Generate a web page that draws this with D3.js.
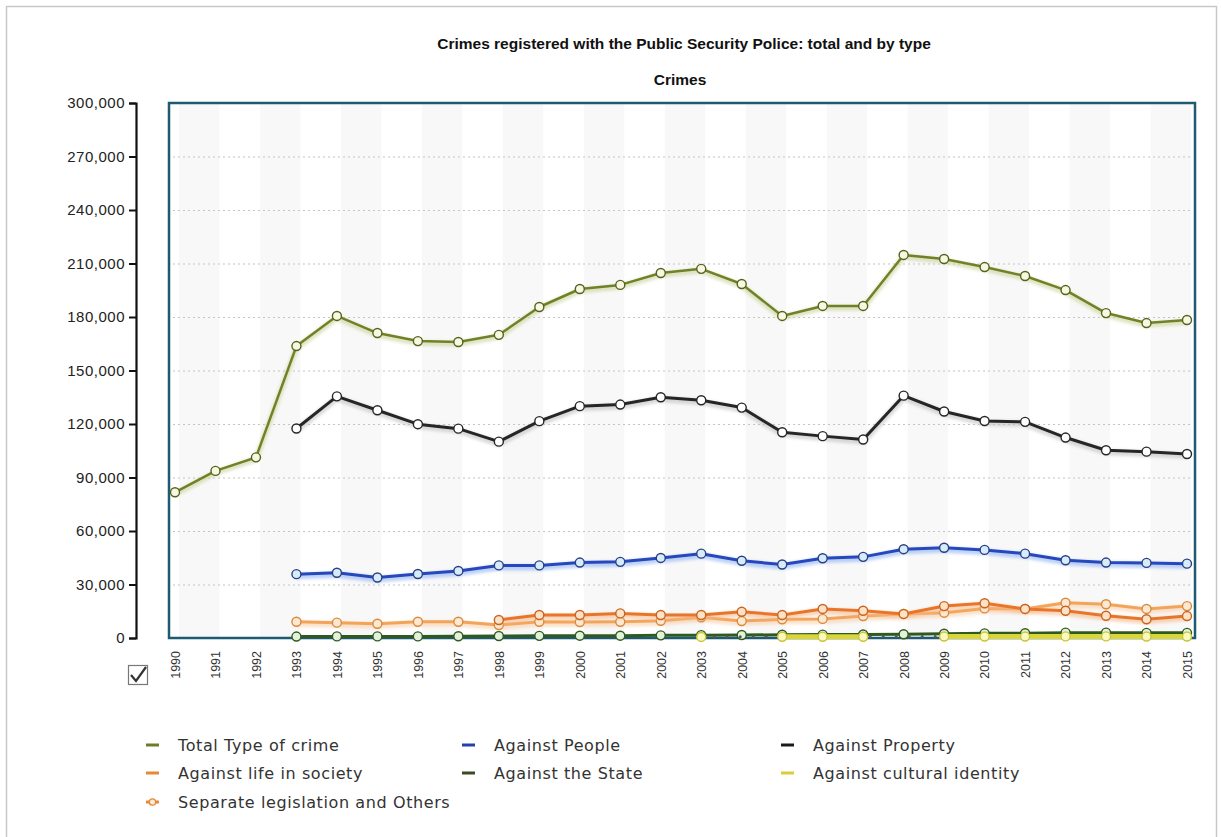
<!DOCTYPE html>
<html>
<head>
<meta charset="utf-8">
<script src="https://cdn.jsdelivr.net/npm/d3@7/dist/d3.min.js"></script>
<style>
  html, body { margin: 0; padding: 0; background: #fff; }
  svg { display: block; }
</style>
</head>
<body>
<svg id="chart" width="1221" height="837"></svg>
<script>
// Registered crimes by year, per type
const years = d3.range(1990, 2016).map(String);
const yTicks = [0, 30000, 60000, 90000, 120000, 150000, 180000, 210000, 240000, 270000, 300000];

const totalCrime = [81700, 93700, 101300, 163700, 180600, 171000, 166500, 166000, 170000, 185600,
  195700, 198000, 204700, 207000, 198500, 180600, 186200, 186200, 214800, 212500,
  208000, 203000, 195100, 182200, 176600, 178300];
const againstPeople = [null, null, null, 35800, 36600, 33900, 35900, 37600, 40700, 40700,
  42300, 42700, 44900, 47300, 43300, 41200, 44700, 45500, 49800, 50600,
  49400, 47300, 43600, 42300, 42100, 41700];
const againstProperty = [null, null, null, 117500, 135500, 127700, 119900, 117400, 110100, 121600,
  130000, 130900, 135000, 133300, 129200, 115400, 113200, 111300, 135900, 127000,
  121700, 121200, 112400, 105300, 104500, 103200];
const lifeInSociety = [null, null, null, null, null, null, null, null, 10100, 12900,
  12900, 13800, 12900, 12900, 14700, 12900, 16300, 15300, 13500, 17900,
  19500, 16300, 15300, 12500, 10500, 12300];
const againstState = [null, null, null, 800, 900, 900, 900, 1000, 1100, 1200,
  1300, 1300, 1500, 1600, 1700, 1800, 1900, 2000, 2100, 2400,
  2600, 2700, 3000, 3000, 2900, 2900];
const culturalIdentity = [null, null, null, null, null, null, null, null, null, null,
  null, null, null, 600, null, 700, 700, 700, null, 800,
  800, 800, 900, 900, 800, 800];
const separateLegislation = [null, null, null, 9100, 8600, 8000, 9100, 9100, 7300, 9100,
  9000, 9100, 9700, 11600, 9500, 10500, 10700, 12300, 13500, 14200,
  16600, 16300, 19800, 18900, 16300, 17900];

const series = [
  { name: "Against the State", values: againstState, stroke: "#2f5a1f", width: 3, fill: "#e4f2dc", ring: "#2f5a1f" },
  { name: "Against cultural identity", values: culturalIdentity, stroke: "#d9d63c", width: 5, fill: "#fbf8c0", ring: "#c9c43a", bridge: true },
  { name: "Separate legislation and Others", values: separateLegislation, stroke: "#f2a45a", width: 3, fill: "#fde9d2", ring: "#d98a3e", glow: "#f8cfa8" },
  { name: "Against life in society", values: lifeInSociety, stroke: "#e8762a", width: 3, fill: "#fde2c8", ring: "#c8641f", glow: "#f5b98a" },
  { name: "Against People", values: againstPeople, stroke: "#2747bd", width: 3, fill: "#d6ecfb", ring: "#2a3f80", glow: "#8fb2f2" },
  { name: "Against Property", values: againstProperty, stroke: "#262626", width: 3, fill: "#ffffff", ring: "#262626", glow: "#c0c0c0" },
  { name: "Total Type of crime", values: totalCrime, stroke: "#6f8227", width: 2.5, fill: "#f8f8e2", ring: "#55621e", glow: "#c9d29a" }
];

const legendItems = [
  { name: "Total Type of crime", color: "#6b7d2a" },
  { name: "Against People", color: "#2340b3" },
  { name: "Against Property", color: "#1a1a1a" },
  { name: "Against life in society", color: "#e88a35" },
  { name: "Against the State", color: "#3c4a22" },
  { name: "Against cultural identity", color: "#d8cf35" },
  { name: "Separate legislation and Others", color: "#e8883a", circle: true }
];

const svg = d3.select("#chart");
const plot = { left: 169, right: 1195, top: 103, bottom: 638 };

const x = d3.scalePoint().domain(years).range([175, 1187]);
const y = d3.scaleLinear().domain([0, 300000]).range([plot.bottom, plot.top]);

// outer frame
svg.append("rect").attr("x", 6.5).attr("y", 6.5).attr("width", 1210).attr("height", 840)
  .attr("fill", "none").attr("stroke", "#c8c8c8").attr("stroke-width", 1.5);

const defs = svg.append("defs");
defs.append("filter").attr("id", "soft").attr("x", "-5%").attr("y", "-50%").attr("width", "110%").attr("height", "200%")
  .append("feGaussianBlur").attr("stdDeviation", 1.6);
defs.append("clipPath").attr("id", "plotClip").append("rect")
  .attr("x", plot.left).attr("y", plot.top).attr("width", plot.right - plot.left).attr("height", plot.bottom - plot.top);

// alternating column shading
const step = x.step();
svg.append("g").attr("clip-path", "url(#plotClip)")
  .selectAll("rect").data(years.filter((d, i) => i % 2 === 0 && i < years.length - 1))
  .join("rect")
  .attr("x", d => x(d) + 4)
  .attr("y", plot.top)
  .attr("width", step)
  .attr("height", plot.bottom - plot.top)
  .attr("fill", "#f8f8f8");

// dotted grid lines
svg.append("g").selectAll("line").data(yTicks.filter(t => t > 0 && t < 300000))
  .join("line")
  .attr("x1", plot.left + 4).attr("x2", plot.right - 2)
  .attr("y1", d => y(d) + 0.5).attr("y2", d => y(d) + 0.5)
  .attr("stroke", "#c4c4c4").attr("stroke-width", 1.2).attr("stroke-dasharray", "2,3");

// plot frame
svg.append("rect").attr("x", plot.left).attr("y", plot.top)
  .attr("width", plot.right - plot.left).attr("height", plot.bottom - plot.top)
  .attr("fill", "none").attr("stroke", "#1f5a73").attr("stroke-width", 2.5);

// y axis
const yAxis = d3.axisLeft(y).tickValues(yTicks).tickSize(7).tickPadding(4)
  .tickFormat(d3.format(","));
const yg = svg.append("g").attr("transform", "translate(136,0)").call(yAxis);
yg.select(".domain").attr("stroke", "#111").attr("stroke-width", 2.2);
yg.selectAll(".tick line").attr("stroke", "#111").attr("stroke-width", 2);
yg.selectAll(".tick text").attr("font-family", "Liberation Sans, Arial, sans-serif")
  .attr("font-size", 15).attr("letter-spacing", 0.5).attr("fill", "#222");

// x axis labels
const xAxis = d3.axisBottom(x).tickSize(0).tickPadding(0);
const xg = svg.append("g").attr("transform", `translate(0,${plot.bottom})`).call(xAxis);
xg.select(".domain").remove();
xg.selectAll(".tick text")
  .attr("font-family", "Liberation Sans, Arial, sans-serif")
  .attr("font-size", 12.5).attr("fill", "#333")
  .attr("transform", "rotate(-90)")
  .attr("x", -13).attr("y", 0).attr("dy", "0.35em")
  .attr("text-anchor", "end");

// series lines and points
const rows = series.map(s => ({ ...s, pts: years.map((yr, i) => ({ yr, v: s.values[i] })) }));
const lineGen = d3.line().defined(d => d.v != null).x(d => x(d.yr)).y(d => y(d.v));

const marks = svg.append("g");
rows.forEach(s => {
  const g = marks.append("g");
  if (s.glow) {
    g.append("path").attr("d", lineGen(s.pts))
      .attr("transform", "translate(0,2)")
      .attr("fill", "none").attr("stroke", s.glow).attr("stroke-width", s.width + 3)
      .attr("opacity", 0.6).attr("filter", "url(#soft)");
  }
  if (s.bridge) {
    // dotted bridge across the missing years
    const known = s.pts.filter(d => d.v != null);
    g.append("path").attr("d", d3.line().x(d => x(d.yr)).y(d => y(d.v))(known))
      .attr("fill", "none").attr("stroke", "#555").attr("stroke-width", 3)
      .attr("stroke-linecap", "round").attr("stroke-dasharray", "0,13");
  }
  g.append("path").attr("d", lineGen(s.pts))
    .attr("fill", "none").attr("stroke", s.stroke).attr("stroke-width", s.width)
    .attr("stroke-linejoin", "round");
  g.selectAll("circle").data(s.pts.filter(d => d.v != null)).join("circle")
    .attr("cx", d => x(d.yr)).attr("cy", d => y(d.v)).attr("r", 4.5)
    .attr("fill", s.fill).attr("stroke", s.ring).attr("stroke-width", 1.4);
});

// checkbox under the axis
const cb = svg.append("g").attr("transform", "translate(128,665)");
cb.append("rect").attr("x", 0.5).attr("y", 0.5).attr("width", 19).attr("height", 19)
  .attr("fill", "#fff").attr("stroke", "#777").attr("stroke-width", 1.2);
cb.append("path").attr("d", "M3,10 L8,16 L18,2").attr("fill", "none")
  .attr("stroke", "#333").attr("stroke-width", 2.2);

// title
svg.append("text").attr("x", 684).attr("y", 49).attr("text-anchor", "middle")
  .attr("font-family", "Liberation Sans, Arial, sans-serif").attr("font-weight", "bold")
  .attr("font-size", 15.5).attr("fill", "#111")
  .text("Crimes registered with the Public Security Police: total and by type");
svg.append("text").attr("x", 680).attr("y", 85).attr("text-anchor", "middle")
  .attr("font-family", "Liberation Sans, Arial, sans-serif").attr("font-weight", "bold")
  .attr("font-size", 15.5).attr("fill", "#111")
  .text("Crimes");

// legend
const colX = [146, 462, 781];
const rowY = [745, 773, 802];
const lg = svg.append("g");
legendItems.forEach((item, i) => {
  const cx = colX[i % 3], cy = rowY[Math.floor(i / 3)];
  const it = lg.append("g").attr("transform", `translate(${cx},${cy})`);
  it.append("line").attr("x1", 0).attr("x2", 13).attr("y1", 0).attr("y2", 0)
    .attr("stroke", item.color).attr("stroke-width", 3);
  if (item.circle) {
    it.append("circle").attr("cx", 6.5).attr("cy", 0).attr("r", 3.2)
      .attr("fill", "#fde9d2").attr("stroke", item.color).attr("stroke-width", 1.3);
  }
  it.append("text").attr("x", 32).attr("y", 0).attr("dy", "0.35em")
    .attr("font-family", "DejaVu Sans, Verdana, sans-serif").attr("font-size", 16)
    .attr("letter-spacing", 0.6)
    .attr("fill", "#333").text(item.name);
});
</script>
</body>
</html>
